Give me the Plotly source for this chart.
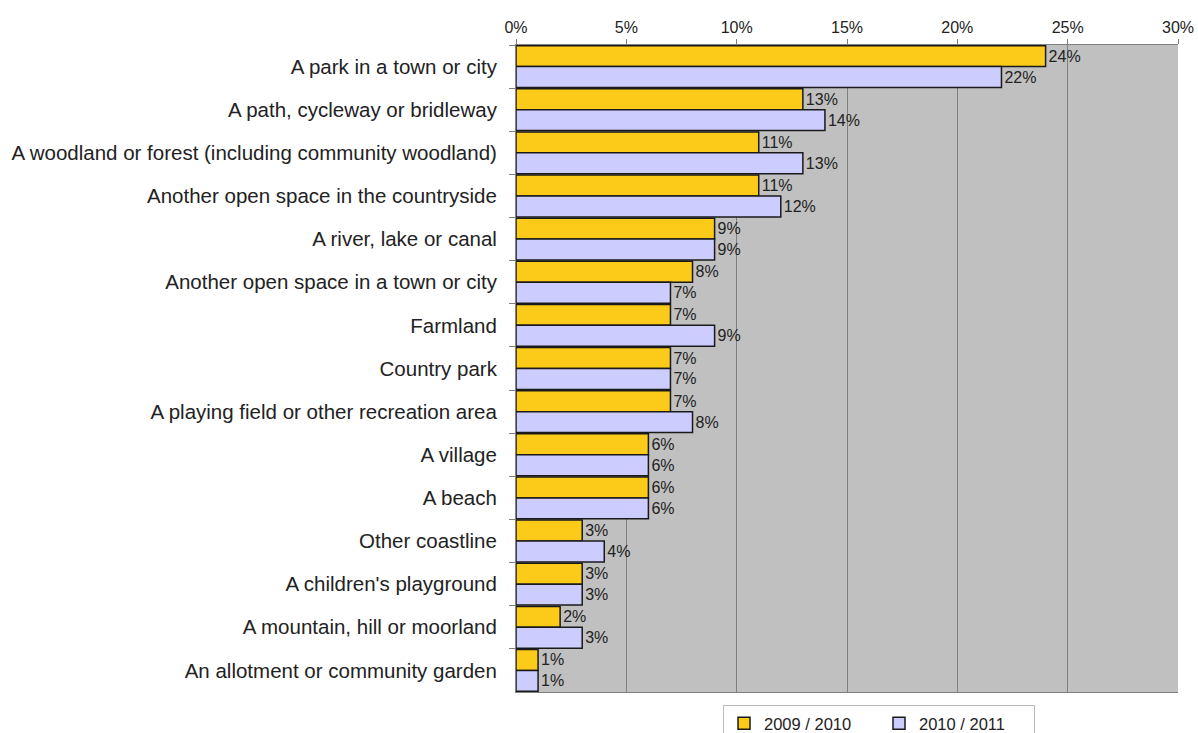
import plotly.graph_objects as go

categories = [
    "A park in a town or city",
    "A path, cycleway or bridleway",
    "A woodland or forest (including community woodland)",
    "Another open space in the countryside",
    "A river, lake or canal",
    "Another open space in a town or city",
    "Farmland",
    "Country park",
    "A playing field or other recreation area",
    "A village",
    "A beach",
    "Other coastline",
    "A children's playground",
    "A mountain, hill or moorland",
    "An allotment or community garden",
]
series_2009 = [24, 13, 11, 11, 9, 8, 7, 7, 7, 6, 6, 3, 3, 2, 1]
series_2010 = [22, 14, 13, 12, 9, 7, 9, 7, 8, 6, 6, 4, 3, 3, 1]
x_ticks = [0, 5, 10, 15, 20, 25, 30]

fig = go.Figure()
for name, vals, color in [("2009 / 2010", series_2009, "#FCCB19"),
                          ("2010 / 2011", series_2010, "#CCCCFF")]:
    fig.add_trace(go.Bar(
        y=categories, x=vals, name=name, orientation="h",
        marker=dict(color=color, line=dict(color="#1a1a1a", width=1.5)),
        text=[f"{v}%" for v in vals], textposition="outside",
        textfont=dict(size=16, color="#222222", family="Liberation Sans, Arial"),
        cliponaxis=False,
    ))

fig.update_layout(
    width=1198, height=733,
    margin=dict(l=516, r=20, t=45, b=41, autoexpand=False),
    barmode="group", bargap=0.03, bargroupgap=0,
    plot_bgcolor="#C0C0C0", paper_bgcolor="white",
    font=dict(family="Liberation Sans, Arial", color="#222222"),
    showlegend=True,
    legend=dict(orientation="h", x=0.3127, xanchor="left", y=-0.0201, yanchor="top",
                bordercolor="#BBBBBB", borderwidth=1, bgcolor="white",
                font=dict(size=16.5), traceorder="normal",
                entrywidth=110, entrywidthmode="pixels"),
)
fig.update_xaxes(
    side="top", range=[0, 30], tickvals=x_ticks, ticktext=[f"{t}%" for t in x_ticks],
    showgrid=True, gridcolor="#808080", gridwidth=1,
    ticks="outside", ticklen=5, tickcolor="#808080",
    showline=True, linecolor="#808080", mirror=True,
    tickfont=dict(size=16), zeroline=False,
)
fig.update_yaxes(
    autorange="reversed", tickson="boundaries", ticks="outside", ticklen=6,
    tickcolor="#808080", showline=True, linecolor="#808080",
    tickfont=dict(size=20.5), ticklabelstandoff=14,
)

fig.write_html("out.html")
